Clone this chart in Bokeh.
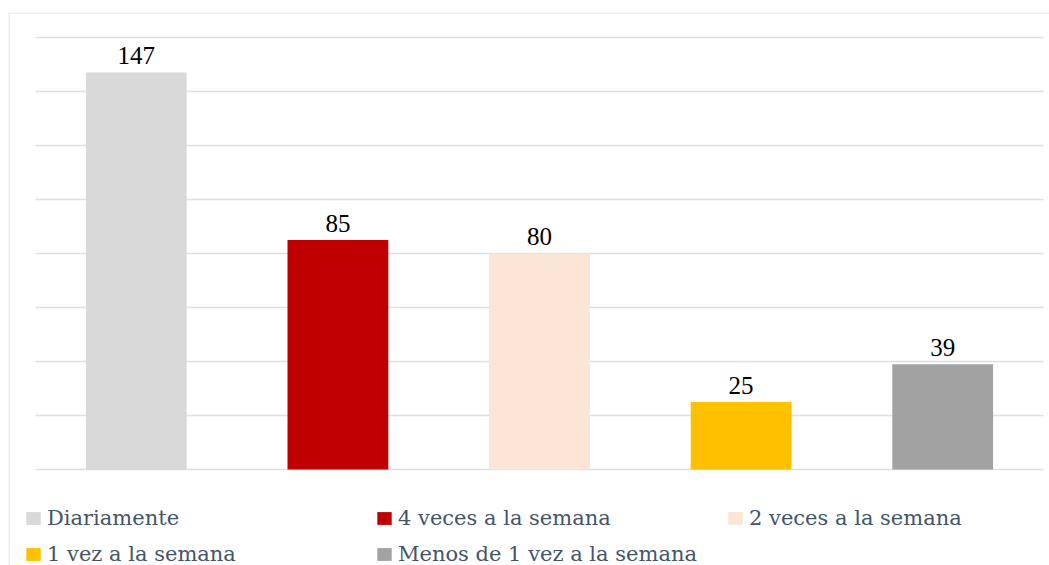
from bokeh.plotting import figure
from bokeh.models import ColumnDataSource, Legend, LegendItem, Range1d, Span
from bokeh.core.properties import value
from bokeh.embed import file_html
from bokeh.resources import INLINE

categories = ["Diariamente", "4 veces a la semana", "2 veces a la semana",
              "1 vez a la semana", "Menos de 1 vez a la semana"]
values = [147, 85, 80, 25, 39]
labels = [str(v) for v in values]
colors = ["#D9D9D9", "#C00000", "#FBE5D6", "#FFC000", "#A2A2A2"]
grid_ticks = [0, 20, 40, 60, 80, 100, 120, 140, 160]

LABEL_FONT = "Liberation Serif"
LEGEND_FONT = "DejaVu Serif"

# layout (pixels)
W, H = 1049, 565
FL, FT = 8, 12                 # frame left / top (chart border)
PL, PR = 35, 1043              # plot area left / right
PT, PB = 37, 469               # plot area top (160) / bottom (0)
n = len(categories)
ux = (PR - PL) / n
uy = (PB - PT) / 160.0
x_start = -0.5 - (PL - FL) / ux
x_end = n - 0.5 + (W - PR) / ux
y_start = -(H - PB) / uy
y_end = 160 + (PT - FT) / uy

xs = list(range(n))
source = ColumnDataSource(dict(x=xs, cat=categories, val=values, label=labels, color=colors))

p = figure(width=W, height=H,
           x_range=Range1d(x_start, x_end), y_range=Range1d(y_start, y_end),
           x_axis_location=None, y_axis_location=None,
           output_backend="svg", toolbar_location=None,
           min_border_left=FL, min_border_right=0,
           min_border_top=FT, min_border_bottom=0)

p.outline_line_color = None
p.background_fill_color = "white"
p.border_fill_color = "white"
p.xgrid.visible = False
p.ygrid.visible = False

# chart border (left and top edges; right/bottom lie outside the picture)
p.add_layout(Span(location=x_start + 0.5 / ux, dimension="height",
                  line_color="#D9D9D9", line_width=1))
p.add_layout(Span(location=y_end - 0.5 / uy, dimension="width",
                  line_color="#D9D9D9", line_width=1))

gx0 = [-0.5] * len(grid_ticks)
gx1 = [n - 0.5] * len(grid_ticks)
p.segment(x0=gx0, y0=grid_ticks, x1=gx1, y1=grid_ticks,
          line_color="#DCDFE4", line_width=1.3)

r = p.vbar(x="x", top="val", width=0.5, bottom=0, source=source,
           fill_color="color", line_color=None)

p.text(x="x", y="val", text="label", source=source,
       text_align="center", text_baseline="alphabetic", y_offset=-17,
       text_font=value(LABEL_FONT), text_font_size="25px", text_color="#000000")

items = [LegendItem(label=c, renderers=[r], index=i) for i, c in enumerate(categories)]
legend = Legend(items=items, location=(16, -1), orientation="horizontal", ncols=3,
                glyph_width=18, glyph_height=16, label_standoff=5,
                label_width=316, spacing=12, padding=0, margin=0,
                label_text_font=LEGEND_FONT, label_text_font_size="21px",
                label_text_color="#44546A",
                border_line_color=None, background_fill_alpha=0)
p.add_layout(legend)

open("out.html", "w").write(file_html(p, INLINE))
